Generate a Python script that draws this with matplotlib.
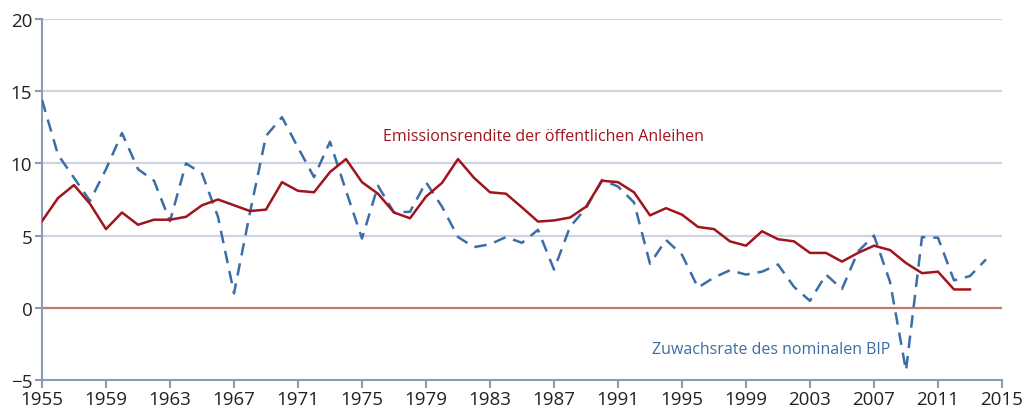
import matplotlib.pyplot as plt

years = list(range(1955, 2015))

# Emissionsrendite der öffentlichen Anleihen (1955-2013)
rendite = [6.0, 7.6, 8.5, 7.2, 5.45, 6.6, 5.75, 6.1, 6.1, 6.3,
           7.1, 7.5, 7.1, 6.7, 6.8, 8.7, 8.1, 8.0, 9.4, 10.3,
           8.7, 7.9, 6.6, 6.2, 7.7, 8.65, 10.3, 9.0, 8.0, 7.9,
           6.95, 5.97, 6.05, 6.25, 7.0, 8.8, 8.7, 8.0, 6.4, 6.9,
           6.45, 5.6, 5.45, 4.6, 4.3, 5.3, 4.75, 4.6, 3.8, 3.8,
           3.2, 3.8, 4.3, 4.0, 3.1, 2.4, 2.5, 1.27, 1.27]

# Zuwachsrate des nominalen BIP (1955-2014)
bip = [14.4, 10.6, 9.0, 7.4, 9.6, 12.1, 9.6, 8.8, 6.0, 10.0,
       9.3, 6.3, 1.0, 6.6, 11.9, 13.2, 11.1, 9.05, 11.5, 8.1,
       4.8, 8.45, 6.6, 6.65, 8.7, 7.0, 4.9, 4.2, 4.4, 4.9,
       4.5, 5.4, 2.65, 5.6, 6.9, 8.85, 8.4, 7.3, 3.05, 4.7,
       3.67, 1.4, 2.1, 2.6, 2.3, 2.5, 3.0, 1.45, 0.48, 2.3,
       1.3, 3.9, 5.0, 1.8, -4.35, 4.9, 4.85, 1.9, 2.2, 3.35]

xticks = list(range(1955, 2016, 4))
yticks = [-5, 0, 5, 10, 15, 20]

red = "#a0141e"
blue = "#3d6da6"
axis_col = "#8c9bb6"
grid_col = "#d0d4e0"

plt.rcParams["font.family"] = ["Open Sans", "DejaVu Sans"]

fig = plt.figure(figsize=(10.26, 4.10), dpi=100)
ax = fig.add_axes([42 / 1026, 1 - 381 / 410, 960 / 1026, 361 / 410])

for y in yticks[2:]:
    ax.axhline(y, color=grid_col, lw=1.6, zorder=1)
ax.axhline(0, color="#c07a6c", lw=1.6, zorder=2)

ax.plot(years, bip, color=blue, lw=1.8, ls=(0, (5, 3.2)), zorder=3)
ax.plot(years[:len(rendite)], rendite, color=red, lw=1.8, zorder=4)

ax.set_xlim(1955, 2015)
ax.set_ylim(-5, 20)
ax.set_xticks(xticks)
ax.set_yticks(yticks)
ax.tick_params(axis="both", colors=axis_col, labelcolor="#222222", labelsize=13.5, width=1.5)
ax.tick_params(axis="x", length=6, pad=1)
ax.tick_params(axis="y", length=5, pad=2)

for s in ["top", "right"]:
    ax.spines[s].set_visible(False)
for s in ["left", "bottom"]:
    ax.spines[s].set_color(axis_col)
    ax.spines[s].set_linewidth(1.5)

ax.text(1976.3, 11.9, "Emissionsrendite der öffentlichen Anleihen",
        color=red, fontsize=11.5, va="center", ha="left")
ax.text(1993.1, -2.85, "Zuwachsrate des nominalen BIP",
        color=blue, fontsize=11.5, va="center", ha="left")

fig.savefig("out.png", dpi=100)
